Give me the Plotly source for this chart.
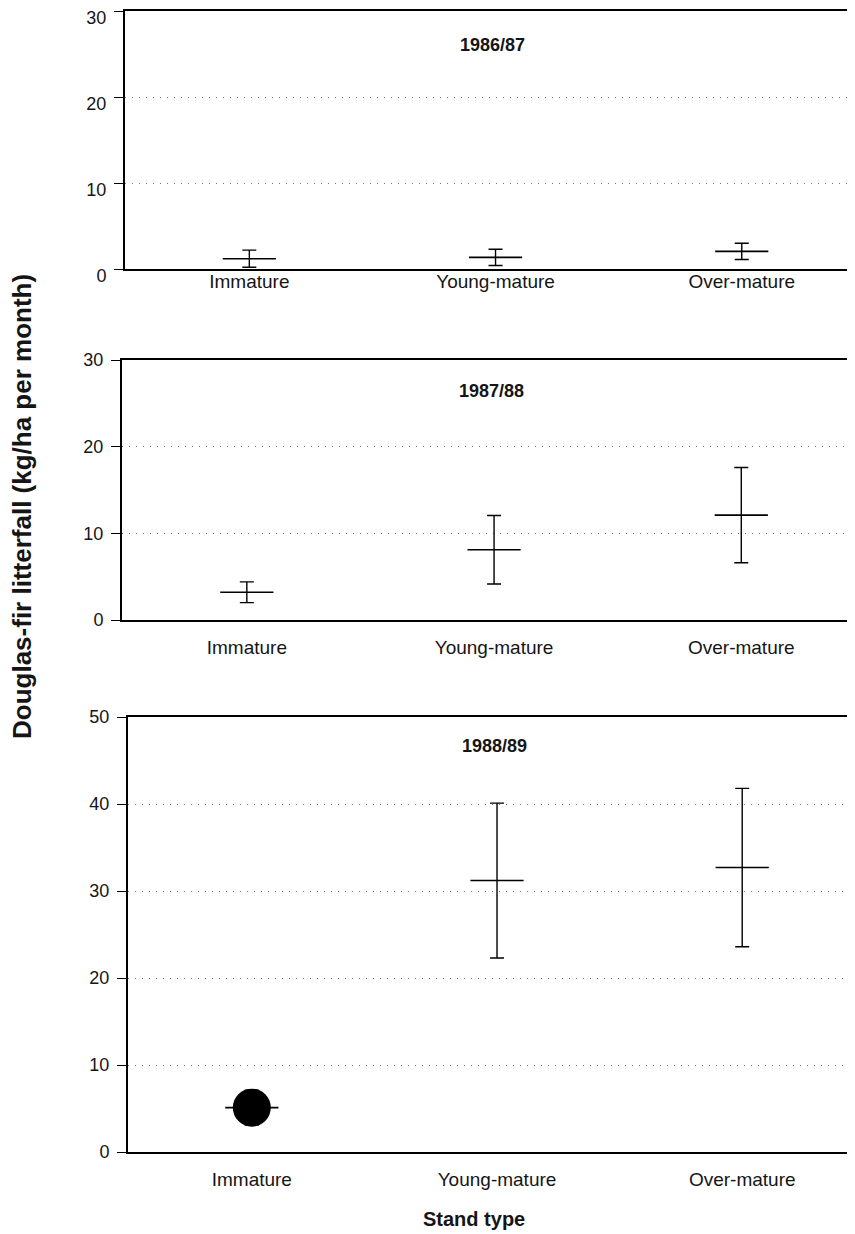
import plotly.graph_objects as go

categories = ["Immature", "Young-mature", "Over-mature"]
panel_titles = ["1986/87", "1987/88", "1988/89"]

means_8687 = [1.2, 1.35, 2.05]
errs_8687 = [1.0, 0.95, 0.95]

means_8788 = [3.2, 8.1, 12.1]
errs_8788 = [1.2, 3.95, 5.5]

means_8889 = [5.1, 31.2, 32.7]
errs_8889 = [2.0, 8.9, 9.1]

dot_category = ["Immature"]
dot_value = [5.1]

y_ranges = [[0, 30], [0, 30], [0, 50]]
y_ticks = [[0, 10, 20, 30], [0, 10, 20, 30], [0, 10, 20, 30, 40, 50]]

OFF = 8  # default page body margin
W, H = 855 - OFF, 1234 - OFF


def px_x(p):
    return (p - OFF) / W


def px_y(p):
    return 1 - (p - OFF) / H


# target pixel geometry of the three panels (left, top, bottom)
panels_px = [(125, 11, 269), (122, 360, 620), (128, 717, 1152)]
label_standoff = [-6, 9, 9]
ylabel_shift = [7, 0, 0]
title_pos = [0.868, 0.88, 0.933]

fig = go.Figure()
series = [(means_8687, errs_8687), (means_8788, errs_8788), (means_8889, errs_8889)]

FONT = "Liberation Sans, Arial, Helvetica, sans-serif"
TXT = "#151515"

for i, (m, e) in enumerate(series):
    sfx = "" if i == 0 else str(i + 1)
    fig.add_trace(go.Scatter(
        x=categories, y=m,
        mode="markers",
        marker=dict(symbol="line-ew", size=38, color="black",
                    line=dict(width=1.6, color="black")),
        error_y=dict(type="data", array=e, visible=True, color="black",
                     thickness=1.4, width=7),
        xaxis="x" + sfx, yaxis="y" + sfx, showlegend=False,
        hoverinfo="skip",
    ))

fig.add_trace(go.Scatter(
    x=dot_category, y=dot_value, mode="markers",
    marker=dict(symbol="circle", size=38, color="black"),
    xaxis="x3", yaxis="y3", showlegend=False, hoverinfo="skip",
))

layout = dict(
    width=W, height=H,
    margin=dict(l=0, r=0, t=0, b=0),
    paper_bgcolor="white", plot_bgcolor="white",
    font=dict(family=FONT, color=TXT),
    showlegend=False,
)

for i, (left, top, bottom) in enumerate(panels_px):
    sfx = "" if i == 0 else str(i + 1)
    ydom = [px_y(bottom), px_y(top)]
    xdom = [px_x(left), 1.0]
    layout["xaxis" + sfx] = dict(
        domain=xdom, anchor="y" + sfx, type="category",
        range=[-0.505, 2.46],
        showline=True, linecolor="black", linewidth=2, mirror=True,
        ticks="", showgrid=False, zeroline=False,
        tickfont=dict(size=19, family=FONT, color=TXT),
        ticklabelstandoff=label_standoff[i],
        ticklabeloverflow="allow",
        automargin=False, fixedrange=True,
    )
    layout["yaxis" + sfx] = dict(
        domain=ydom, anchor="x" + sfx, range=y_ranges[i],
        tickvals=y_ticks[i],
        showline=True, linecolor="black", linewidth=2,
        ticks="outside", ticklen=9, tickwidth=1.2, tickcolor="black",
        tickfont=dict(size=18, family=FONT, color=TXT),
        ticklabelstandoff=4,
        ticklabelshift=ylabel_shift[i],
        ticklabeloverflow="allow",
        showgrid=True, gridcolor="#777777", griddash="1px,6px", gridwidth=1,
        zeroline=False, automargin=False, fixedrange=True,
    )

annotations = []
for i, t in enumerate(panel_titles):
    sfx = "" if i == 0 else str(i + 1)
    annotations.append(dict(
        text="<b>" + t + "</b>", x=categories[1], xref="x" + sfx,
        y=title_pos[i], yref="y" + sfx + " domain", xshift=-3,
        showarrow=False, xanchor="center", yanchor="middle",
        font=dict(size=18, family=FONT, color=TXT),
    ))

annotations.append(dict(
    text="<b>Douglas-fir litterfall (kg/ha per month)</b>",
    x=px_x(22), xref="paper", y=px_y(507), yref="paper",
    textangle=-90, showarrow=False, xanchor="center", yanchor="middle",
    font=dict(size=26, family=FONT, color=TXT),
))
annotations.append(dict(
    text="<b>Stand type</b>",
    x=px_x(474), xref="paper", y=px_y(1219), yref="paper",
    showarrow=False, xanchor="center", yanchor="middle",
    font=dict(size=20, family=FONT, color=TXT),
))
layout["annotations"] = annotations

fig.update_layout(**layout)
fig.write_html("out.html")
